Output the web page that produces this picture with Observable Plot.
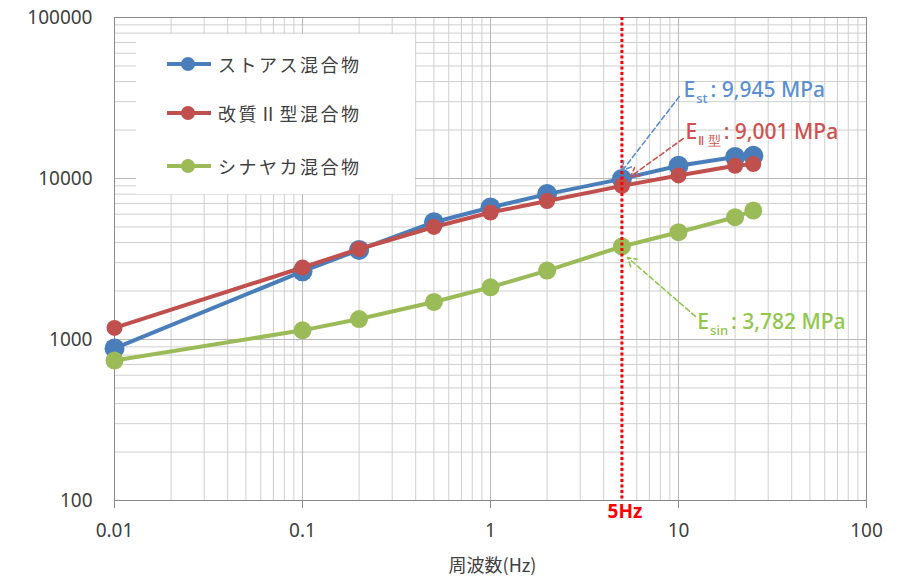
<!DOCTYPE html>
<html><head><meta charset="utf-8">
<script src="https://cdn.jsdelivr.net/npm/d3@7"></script>
<script src="https://cdn.jsdelivr.net/npm/@observablehq/plot@0.6"></script>
<style>
body{margin:0;background:#fff;}
#wrap{position:relative;width:901px;height:586px;}
#legend{position:absolute;left:136px;top:34px;width:279px;height:160px;background:#fff;font-family:"Noto Sans CJK JP";font-size:18px;color:#404040;}
.item{position:absolute;left:30px;height:30px;display:flex;align-items:center;letter-spacing:2.5px;}
.item svg{margin-right:6px;}
</style></head><body><div id="wrap"></div>
<script>
// ---- data ----
const seriesNames = ["ストアス混合物", "改質Ⅱ型混合物", "シナヤカ混合物"];
const freq = [0.01, 0.1, 0.2, 0.5, 1, 2, 5, 10, 20, 25];
const straightAsphalt = [880, 2650, 3600, 5350, 6600, 8000, 9945, 12000, 13600, 13850];
const modifiedType2 = [1180, 2800, 3650, 5000, 6150, 7250, 9001, 10450, 12000, 12300];
const shinayaka = [740, 1140, 1340, 1710, 2110, 2680, 3782, 4640, 5750, 6320];
const xTickLabels = [0.01, 0.1, 1, 10, 100];
const yTickLabels = [100, 1000, 10000, 100000];
const markFreq = 5;
const annotationTexts = ["E|st|: 9,945 MPa", "E|Ⅱ 型|: 9,001 MPa", "E|sin|: 3,782 MPa"];

// ---- build ----
const colors = ["#4a7ebb", "#c0504d", "#9bbb59"];
const textColors = ["#5b8fd4", "#cf504c", "#8fc74a"];
const radii = [10, 8, 9];
const allSeries = [straightAsphalt, modifiedType2, shinayaka];
const rows = (ys) => freq.map((f, i) => ({f, v: ys[i]}));
const minor = (decs) => decs.flatMap(d => [2,3,4,5,6,7,8,9].map(k => +(k*d).toPrecision(3)));
const xMinor = minor([0.01, 0.1, 1, 10]);
const yMinor = minor([100, 1000, 10000]);

// annotation placement (data units)
const ann = [
  {t: annotationTexts[0], x: 10.63, y: 35200, x1: 10.1, y1: 32300, x2: 5.03, y2: 11200},
  {t: annotationTexts[1], x: 10.9, y: 19300, x1: 10.6, y1: 17700, x2: 5.56, y2: 10280},
  {t: annotationTexts[2], x: 12.6, y: 1275, x1: 12.3, y1: 1390, x2: 5.36, y2: 3228}
];

const marks = [
  Plot.ruleX(xMinor, {stroke: "#cfcfcf"}),
  Plot.ruleY(yMinor, {stroke: "#cfcfcf"}),
  Plot.ruleX(xTickLabels, {stroke: "#b8b8b8"}),
  Plot.ruleY(yTickLabels, {stroke: "#b8b8b8"}),
  Plot.frame({stroke: "#8a8a8a"}),
  Plot.axisX(xTickLabels, {tickSize: 8, tickPadding: 15, tickFormat: d => String(d), label: null, stroke: "#8a8a8a"}),
  Plot.axisY(yTickLabels, {tickSize: 0, tickPadding: 22, tickFormat: d => String(d), label: null})
];
allSeries.forEach((s, i) => {
  marks.push(Plot.line(rows(s), {x: "f", y: "v", stroke: colors[i], strokeWidth: 4}));
  marks.push(Plot.dot(rows(s), {x: "f", y: "v", r: radii[i], fill: colors[i]}));
});
marks.push(Plot.ruleX([markFreq], {stroke: "#ff0000", strokeWidth: 3, strokeDasharray: "3,2.5"}));
marks.push(Plot.text([markFreq], {x: d => d, text: d => d + "Hz", frameAnchor: "bottom", dy: 17, dx: 3, fill: "#ff0000", fontWeight: "bold", fontSize: 19}));
ann.forEach((a, i) => {
  marks.push(Plot.arrow([a], {x1: "x1", y1: "y1", x2: "x2", y2: "y2", stroke: textColors[i], strokeWidth: 1.6, strokeDasharray: "5,3", headLength: 9}));
  marks.push(Plot.text([a], {x: "x", y: "y", text: "t", fill: textColors[i], textAnchor: "start", fontSize: 21, fontWeight: 500}));
});
marks.push(Plot.text(["周波数(Hz)"], {text: d => d, frameAnchor: "bottom", dy: 71, dx: 2, fontFamily: "Noto Sans CJK JP", fontSize: 18}));

const svg = Plot.plot({
  width: 901, height: 586,
  marginLeft: 114, marginRight: 35, marginTop: 17, marginBottom: 86,
  x: {type: "log", domain: [0.01, 100]},
  y: {type: "log", domain: [100, 100000]},
  style: {fontFamily: "Noto Sans", fontSize: "19px", color: "#404040", background: "white"},
  marks
});

// subscript rendering for annotation labels
d3.select(svg).selectAll("text").filter(function(){ return this.textContent.includes("|"); }).each(function(){
  const parts = this.textContent.split("|");
  const t = d3.select(this); t.text(null);
  t.append("tspan").text(parts[0]);
  t.append("tspan").attr("font-size", 13).attr("dy", 6).attr("dx", 1).text(parts[1]);
  t.append("tspan").attr("dy", -6).attr("dx", 3).text(parts[2]);
});

const wrap = document.getElementById("wrap");
wrap.appendChild(svg);

// legend
const legend = document.createElement("div");
legend.id = "legend";
const rowsY = [30, 79, 132];
seriesNames.forEach((name, i) => {
  const item = document.createElement("div");
  item.className = "item";
  item.style.top = (rowsY[i] - 15) + "px";
  item.innerHTML = `<svg width="46" height="20"><line x1="1" y1="10" x2="45" y2="10" stroke="${colors[i]}" stroke-width="4"/><circle cx="22" cy="10" r="7" fill="${colors[i]}"/></svg><span>${name}</span>`;
  legend.appendChild(item);
});
wrap.appendChild(legend);
</script></body></html>
